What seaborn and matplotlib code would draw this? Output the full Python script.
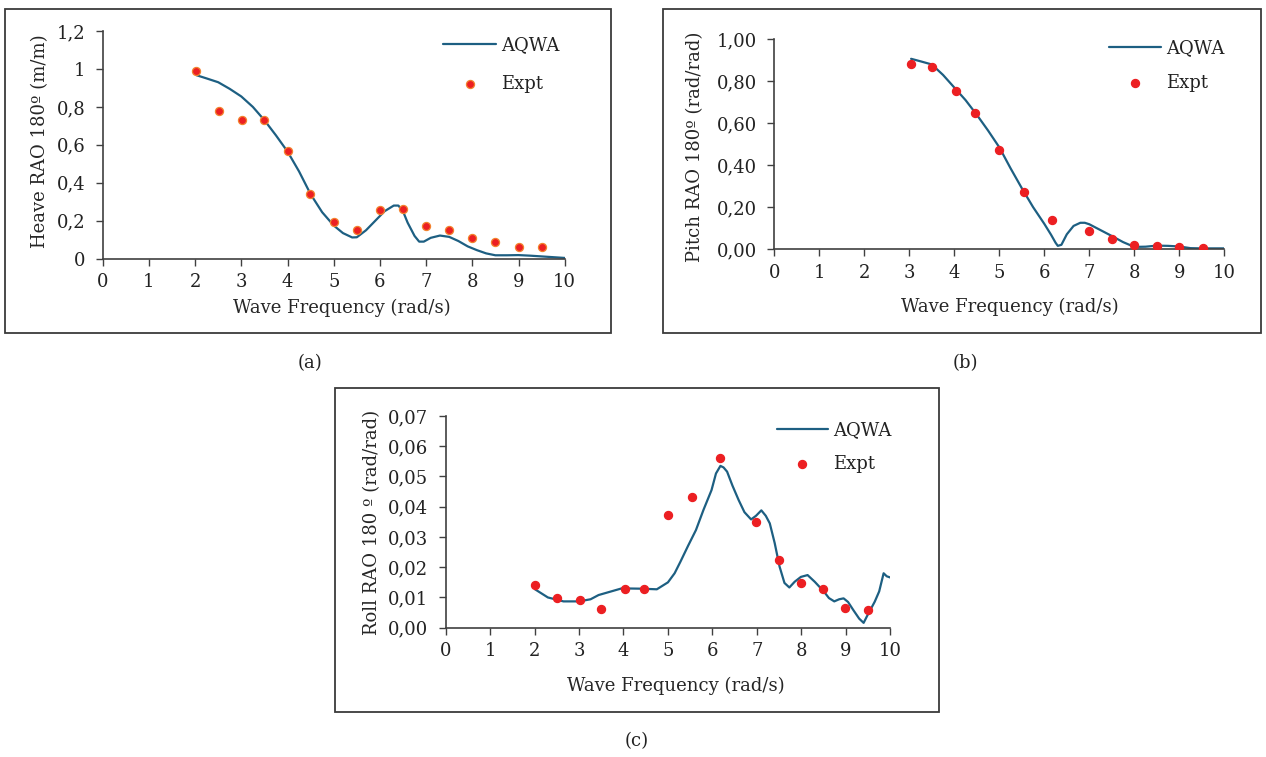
import matplotlib
matplotlib.use("Agg")
import matplotlib.pyplot as plt
from matplotlib.patches import Rectangle
import seaborn as sns

# ---------------- data ----------------
# (a) Heave
heave_expt_x = [2.03, 2.51, 3.01, 3.5, 4.0, 4.48, 5.0, 5.5, 6.0, 6.5, 7.0, 7.5, 8.0, 8.5, 9.0, 9.5]
heave_expt_y = [0.99, 0.78, 0.73, 0.73, 0.567, 0.342, 0.193, 0.151, 0.256, 0.26, 0.174, 0.151, 0.109, 0.088, 0.063, 0.063]
heave_aqwa_x = [2.03, 2.25, 2.5, 2.75, 3.0, 3.25, 3.5, 3.75, 4.0, 4.25, 4.5, 4.75, 5.0, 5.2, 5.4, 5.5,
                5.7, 5.9, 6.1, 6.3, 6.4, 6.5, 6.6, 6.75, 6.85, 6.95, 7.1, 7.3, 7.5, 7.7, 7.9, 8.1,
                8.3, 8.5, 8.75, 9.0, 9.25, 9.5, 9.75, 10.0]
heave_aqwa_y = [0.967, 0.95, 0.93, 0.895, 0.855, 0.80, 0.73, 0.65, 0.565, 0.46, 0.34, 0.245, 0.175, 0.135, 0.112, 0.113,
                0.15, 0.2, 0.25, 0.28, 0.28, 0.25, 0.19, 0.12, 0.09, 0.09, 0.11, 0.122, 0.115, 0.093, 0.065, 0.045,
                0.028, 0.018, 0.018, 0.019, 0.016, 0.012, 0.008, 0.004]
heave_yticks = [0, 0.2, 0.4, 0.6, 0.8, 1.0, 1.2]
heave_ylabels = ["0", "0,2", "0,4", "0,6", "0,8", "1", "1,2"]

# (b) Pitch
pitch_expt_x = [3.04, 3.5, 4.04, 4.47, 5.0, 5.55, 6.18, 7.0, 7.5, 8.0, 8.5, 9.0, 9.52]
pitch_expt_y = [0.883, 0.87, 0.755, 0.648, 0.47, 0.273, 0.137, 0.085, 0.049, 0.02, 0.013, 0.01, 0.006]
pitch_aqwa_x = [3.04, 3.25, 3.5, 3.75, 4.0, 4.25, 4.5, 4.75, 5.0, 5.25, 5.5, 5.75, 6.0, 6.15, 6.25, 6.3,
                6.38, 6.5, 6.65, 6.8, 6.9, 7.0, 7.25, 7.5, 7.75, 8.0, 8.25, 8.5, 8.75, 9.0, 9.25, 9.5, 10.0]
pitch_aqwa_y = [0.907, 0.895, 0.88, 0.83, 0.77, 0.71, 0.64, 0.565, 0.485, 0.385, 0.29, 0.2, 0.12, 0.068, 0.03, 0.015,
                0.02, 0.07, 0.11, 0.125, 0.125, 0.118, 0.09, 0.062, 0.033, 0.01, 0.011, 0.016, 0.015, 0.012, 0.004, 0.003, 0.003]
pitch_yticks = [0, 0.2, 0.4, 0.6, 0.8, 1.0]
pitch_ylabels = ["0,00", "0,20", "0,40", "0,60", "0,80", "1,00"]

# (c) Roll
roll_expt_x = [2.0, 2.5, 3.03, 3.5, 4.04, 4.46, 5.0, 5.53, 6.16, 6.99, 7.49, 7.99, 8.49, 8.99, 9.5]
roll_expt_y = [0.014, 0.0099, 0.0092, 0.0063, 0.0129, 0.0129, 0.0374, 0.0431, 0.056, 0.0348, 0.0224, 0.0147, 0.0129, 0.0065, 0.0058]
roll_aqwa_x = [2.01, 2.3, 2.65, 3.0, 3.26, 3.44, 3.7, 3.96, 4.4, 4.75, 5.0, 5.15, 5.28, 5.45, 5.63, 5.8,
               5.98, 6.08, 6.18, 6.25, 6.33, 6.45, 6.59, 6.72, 6.87, 6.98, 7.1, 7.2, 7.29, 7.4, 7.51, 7.62,
               7.73, 7.85, 7.99, 8.14, 8.3, 8.51, 8.62, 8.74, 8.85, 8.95, 9.05, 9.17, 9.3, 9.4, 9.5, 9.65,
               9.75, 9.85, 9.92, 10.0]
roll_aqwa_y = [0.0127, 0.0100, 0.0087, 0.0087, 0.0094, 0.0108, 0.0119, 0.013, 0.0129, 0.0127, 0.015, 0.018, 0.0218, 0.027, 0.0323, 0.039,
               0.0455, 0.051, 0.0535, 0.053, 0.0516, 0.047, 0.0422, 0.0382, 0.0358, 0.037, 0.0388, 0.037, 0.0345, 0.028, 0.0202, 0.0148,
               0.0133, 0.0152, 0.0168, 0.0174, 0.0152, 0.0119, 0.0098, 0.0087, 0.0094, 0.0097, 0.0085, 0.0058, 0.003, 0.0016, 0.0045, 0.0086,
               0.012, 0.018, 0.017, 0.0166]
roll_yticks = [0, 0.01, 0.02, 0.03, 0.04, 0.05, 0.06, 0.07]
roll_ylabels = ["0,00", "0,01", "0,02", "0,03", "0,04", "0,05", "0,06", "0,07"]

xticks = list(range(0, 11))
xlabels = [str(v) for v in xticks]

# ---------------- style ----------------
sns.set_style("white")
plt.rcParams["font.family"] = ["DejaVu Serif"]
plt.rcParams["text.color"] = "#222222"

W, H = 1266, 757
fig = plt.figure(figsize=(W / 100, H / 100), dpi=100)

LINE_C = "#1D5F82"
RED = "#EC1F22"
FS = 13
SPINE_C = "#404040"


def fx(px):
    return px / W


def fy(py):
    return 1 - py / H


def make_axes(x0, x10, y0, ytop):
    return fig.add_axes([fx(x0), fy(y0), (x10 - x0) / W, (y0 - ytop) / H])


panels = [
    dict(ax=make_axes(102.7, 564.7, 258.7, 31.0), ex=heave_expt_x, ey=heave_expt_y,
         lx=heave_aqwa_x, ly=heave_aqwa_y, yt=heave_yticks, yl=heave_ylabels, ylim=1.2,
         ylabel="Heave RAO 180º (m/m)", ylab_pos=(40, 141), xlab_pos=(342, 308),
         leg=(443, 36, 53, 1.17), edge="#F3832E",
         frame=(5, 9, 611, 333), tag="(a)", tag_pos=(310, 363)),
    dict(ax=make_axes(774.3, 1224.3, 249.0, 39.3), ex=pitch_expt_x, ey=pitch_expt_y,
         lx=pitch_aqwa_x, ly=pitch_aqwa_y, yt=pitch_yticks, yl=pitch_ylabels, ylim=1.0,
         ylabel="Pitch RAO 180º (rad/rad)", ylab_pos=(695, 147), xlab_pos=(1010, 307),
         leg=(1109, 39, 52, 0.95), edge=RED,
         frame=(663, 9, 1261, 333), tag="(b)", tag_pos=(965, 363)),
    dict(ax=make_axes(445.6, 890.3, 627.7, 416.0), ex=roll_expt_x, ey=roll_expt_y,
         lx=roll_aqwa_x, ly=roll_aqwa_y, yt=roll_yticks, yl=roll_ylabels, ylim=0.07,
         ylabel="Roll RAO 180 º (rad/rad)", ylab_pos=(372, 522), xlab_pos=(676, 686),
         leg=(777, 421, 51, 0.87), edge=RED,
         frame=(335, 388, 939, 712), tag="(c)", tag_pos=(637, 741)),
]

for p in panels:
    ax = p["ax"]
    sns.lineplot(x=p["lx"], y=p["ly"], ax=ax, color=LINE_C, linewidth=1.6,
                 sort=False, estimator=None, label="AQWA")
    sns.scatterplot(x=p["ex"], y=p["ey"], ax=ax, color=RED, s=34,
                    edgecolor=p["edge"], linewidth=0.9, label="Expt", zorder=3)
    ax.set_xlim(0, 10)
    ax.set_ylim(0, p["ylim"])
    ax.set_xticks(xticks, xlabels)
    ax.set_yticks(p["yt"], p["yl"])
    ax.tick_params(axis="both", direction="out", length=5, width=1.0,
                   color=SPINE_C, labelsize=FS, labelcolor="#222222",
                   bottom=True, left=True, top=False, right=False)
    ax.tick_params(axis="y", pad=7.5)
    ax.tick_params(axis="x", pad=5.5)
    for side in ("top", "right"):
        ax.spines[side].set_visible(False)
    for side in ("left", "bottom"):
        ax.spines[side].set_color(SPINE_C)
        ax.spines[side].set_linewidth(1.2)
    ax.patch.set_alpha(0)
    ax.set_xlabel("Wave Frequency (rad/s)", fontsize=FS, va="center", ha="center")
    ax.xaxis.set_label_coords(fx(p["xlab_pos"][0]), fy(p["xlab_pos"][1]), transform=fig.transFigure)
    ax.set_ylabel(p["ylabel"], fontsize=FS, va="center", ha="center")
    ax.yaxis.set_label_coords(fx(p["ylab_pos"][0]), fy(p["ylab_pos"][1]), transform=fig.transFigure)

    lx0, ly0, hl_px, lsp = p["leg"]
    fs_px = FS * 100 / 72
    ax.legend(loc="upper left", bbox_to_anchor=(fx(lx0), fy(ly0)),
              bbox_transform=fig.transFigure, frameon=False, fontsize=FS,
              borderpad=0, borderaxespad=0, handlelength=hl_px / fs_px,
              handletextpad=0.3, labelspacing=lsp)

    x0, y0, x1, y1 = p["frame"]
    fig.add_artist(Rectangle((fx(x0), fy(y1)), (x1 - x0) / W, (y1 - y0) / H,
                             transform=fig.transFigure, fill=False,
                             edgecolor="#3a3a3a", linewidth=1.3))
    fig.text(fx(p["tag_pos"][0]), fy(p["tag_pos"][1]), p["tag"], fontsize=FS,
             ha="center", va="center")

fig.savefig("out.png", dpi=100)
